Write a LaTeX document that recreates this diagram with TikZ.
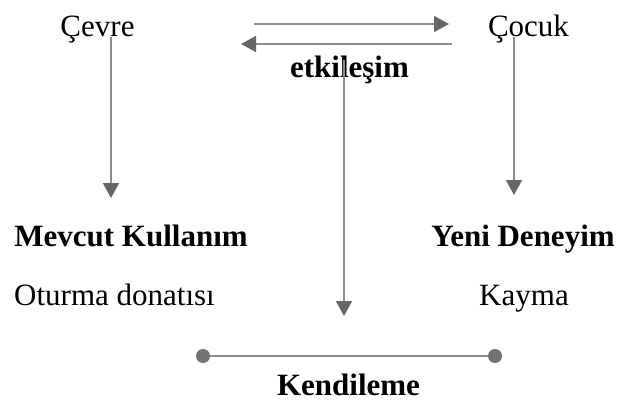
\documentclass[tikz,border=0pt]{standalone}
\usepackage{fontspec}
\setmainfont{Liberation Serif}
\usetikzlibrary{arrows.meta}
\definecolor{lineg}{HTML}{8C8C8C}
\definecolor{headg}{HTML}{666666}
\definecolor{dotg}{HTML}{767171}
\tikzset{
  lbl/.style={inner sep=0pt,anchor=base,font=\fontsize{31}{37}\selectfont},
  blbl/.style={lbl,font=\fontsize{31}{37}\selectfont\bfseries},
  flow/.style={draw=lineg,line width=1.5pt,-{Triangle[width=16pt,length=15pt,color=headg]}},
  dotend/.style={circle,fill=dotg,inner sep=0pt,minimum size=14pt}
}
\begin{document}
\begin{tikzpicture}[x=1pt,y=-1pt]
\useasboundingbox (0,0) rectangle (621,401);
% labels
\node[lbl] (cevre) at (97.5,37) {Çevre};
\node[lbl] (cocuk) at (528.5,37) {Çocuk};
\node[blbl] (etki) at (349.5,78) {etkileşim};
\node[blbl] (mevcut) at (131,246) {Mevcut Kullanım};
\node[blbl] (yeni) at (523,246) {Yeni Deneyim};
\node[lbl] (oturma) at (114.5,305) {Oturma donatısı};
\node[lbl] (kayma) at (524,305) {Kayma};
\node[blbl] (kendi) at (348.5,395) {Kendileme};
% line ends
\coordinate (ustA) at (254,24);  \coordinate (ustB) at (449,24);
\coordinate (altA) at (452,44);  \coordinate (altB) at (241,44);
\coordinate (cevreU) at (111,37);  \coordinate (cevreD) at (111,198);
\coordinate (etkiU) at (344,60);   \coordinate (etkiD) at (344,316);
\coordinate (cocukU) at (514,37);  \coordinate (cocukD) at (514,195);
\node[dotend] (solnokta) at (203,356) {};
\node[dotend] (sagnokta) at (495,356) {};
% arrows
\draw[flow] (ustA) -- (ustB);
\draw[flow] (altA) -- (altB);
\draw[flow] (cevreU) -- (cevreD);
\draw[flow] (etkiU) -- (etkiD);
\draw[flow] (cocukU) -- (cocukD);
\draw[draw=lineg,line width=1.5pt] (solnokta) -- (sagnokta);
\end{tikzpicture}
\end{document}
